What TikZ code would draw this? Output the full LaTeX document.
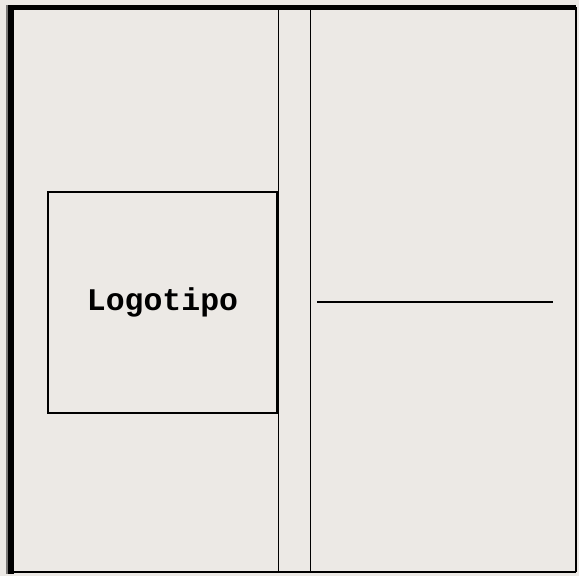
\documentclass[tikz,border=0pt]{standalone}
\usepackage{fontspec}
\setmonofont{Liberation Mono}
\usetikzlibrary{positioning}
\definecolor{paperGray}{HTML}{ECE9E5}
\definecolor{shadeGray}{HTML}{7A7876}
\tikzset{
  frameline/.style={draw=black, line width=#1},
  foldline/.style={draw=black, line width=1.3pt},
  logobox/.style={draw=black, line width=2pt, minimum width=229pt, minimum height=221pt,
    inner sep=0pt, outer sep=0pt, font=\fontsize{31.5}{31.5}\selectfont\ttfamily\bfseries}
}
\begin{document}
\begin{tikzpicture}[x=1pt, y=-1pt]
        \fill[paperGray] (0,0) rectangle (579, 576);
        \useasboundingbox (0,0) rectangle (579, 576);
        % marco
        \coordinate (tl) at (8, 7);
        \coordinate (tr) at (576, 7);
        \coordinate (bl) at (8, 572);
        \coordinate (br) at (576, 572);
        \draw[shadeGray, line width=1.5pt] (7, 5) -- (7, 574);
        \draw[frameline=6pt] (11, 5) -- (11, 574);
        \draw[frameline=5pt] (tl) -- (tr);
        \draw[frameline=2.5pt] (tr) -- (br);
        \draw[frameline=2pt] (bl) -- (br);
        % lomo
        \coordinate (fold1top) at (278.5, 9);
        \coordinate (fold1bot) at (278.5, 572);
        \coordinate (fold2top) at (310.5, 9);
        \coordinate (fold2bot) at (310.5, 572);
        \draw[foldline] (fold1top) -- (fold1bot);
        \draw[foldline] (fold2top) -- (fold2bot);
        % portada
        \node[logobox] (logo) at (162.5, 302.5) {Logotipo};
        \coordinate (titleL) at (317, 301.5);
        \coordinate (titleR) at (553, 301.5);
        \draw[black, line width=2pt] (titleL) -- (titleR);
      \end{tikzpicture}
\end{document}
